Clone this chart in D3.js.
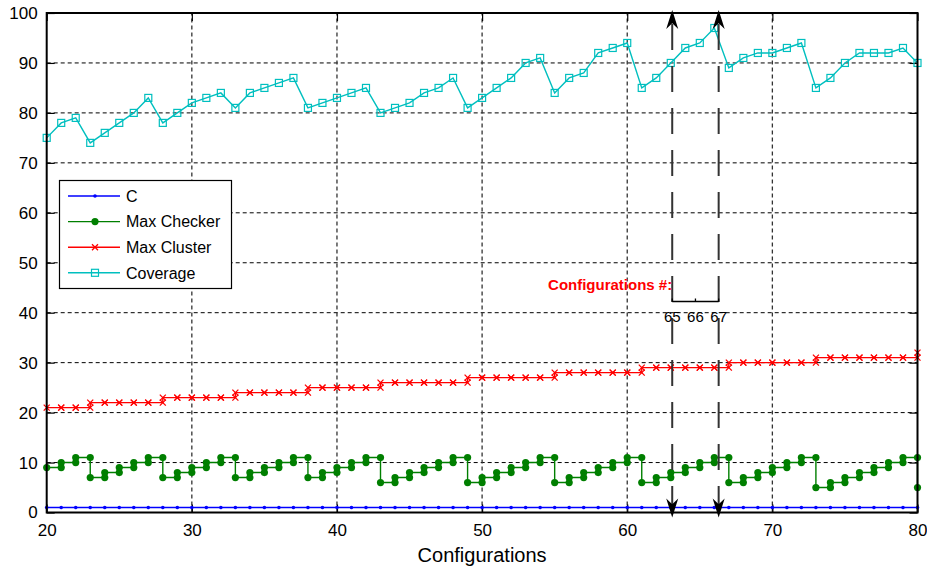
<!DOCTYPE html>
<html>
<head>
<meta charset="utf-8">
<script src="https://cdn.jsdelivr.net/npm/d3@7"></script>
<style>
  body { margin: 0; background: #fff; }
  svg text { font-family: 'Liberation Sans', Arial, sans-serif; }
</style>
</head>
<body>
<svg id="chart"></svg>
<script>
// configurations on the x axis
const configs = d3.range(20, 81);

const cValues = configs.map(() => 1);

const maxChecker = [9, 10, 11, 7, 8, 9, 10, 11, 7, 8, 9, 10, 11, 7, 8, 9, 10, 11, 7, 8,
  9, 10, 11, 6, 7, 8, 9, 10, 11, 6, 7, 8, 9, 10, 11, 6, 7, 8, 9, 10,
  11, 6, 7, 8, 9, 10, 11, 6, 7, 8, 9, 10, 11, 5, 6, 7, 8, 9, 10, 11, 5];

const maxCluster = [21, 21, 21, 22, 22, 22, 22, 22, 23, 23, 23, 23, 23, 24, 24, 24, 24, 24, 25, 25,
  25, 25, 25, 26, 26, 26, 26, 26, 26, 27, 27, 27, 27, 27, 27, 28, 28, 28, 28, 28,
  28, 29, 29, 29, 29, 29, 29, 30, 30, 30, 30, 30, 30, 31, 31, 31, 31, 31, 31, 31, 32];

const coverage = [75, 78, 79, 74, 76, 78, 80, 83, 78, 80, 82, 83, 84, 81, 84, 85, 86, 87, 81, 82,
  83, 84, 85, 80, 81, 82, 84, 85, 87, 81, 83, 85, 87, 90, 91, 84, 87, 88, 92, 93,
  94, 85, 87, 90, 93, 94, 97, 89, 91, 92, 92, 93, 94, 85, 87, 90, 92, 92, 92, 93, 90];

const seriesNames = ['C', 'Max Checker', 'Max Cluster', 'Coverage'];
const xTicks = [20, 30, 40, 50, 60, 70, 80];
const yTicks = [0, 10, 20, 30, 40, 50, 60, 70, 80, 90, 100];

// annotation: the two marked positions and the bracket labels
const markX = [63.1, 66.3];
const bracketLabels = ['65', '66', '67'];

class StepChart {
  constructor(_config) {
    this.config = {
      parentElement: _config.parentElement,
      containerWidth: _config.containerWidth || 927,
      containerHeight: _config.containerHeight || 571,
      margin: _config.margin || {
        top: 13, right: 9.5, bottom: 58.5, left: 46.7,
      },
    };
    this.initVis();
  }

  initVis() {
    const vis = this;
    const m = vis.config.margin;
    vis.width = vis.config.containerWidth - m.left - m.right;
    vis.height = vis.config.containerHeight - m.top - m.bottom;

    vis.svg = d3.select(vis.config.parentElement)
      .attr('width', vis.config.containerWidth)
      .attr('height', vis.config.containerHeight);

    vis.x = d3.scaleLinear().domain([20, 80]).range([m.left, m.left + vis.width]);
    vis.y = d3.scaleLinear().domain([0, 100]).range([m.top + vis.height, m.top]);

    vis.colors = {
      C: '#0000ff', 'Max Checker': '#007f00', 'Max Cluster': '#ff0000', Coverage: '#00bfbf',
    };
  }

  renderVis() {
    const vis = this;
    const { x, y } = vis;
    const x0 = x.range()[0];
    const x1 = x.range()[1];
    const y0 = y.range()[0];
    const y1 = y.range()[1];

    // grid
    const grid = vis.svg.append('g');
    grid.selectAll('.hgrid')
      .data(yTicks.slice(1, -1))
      .enter()
      .append('line')
      .attr('x1', x0).attr('x2', x1)
      .attr('y1', (d) => y(d)).attr('y2', (d) => y(d))
      .attr('stroke', '#000')
      .attr('stroke-width', 1)
      .attr('stroke-dasharray', '4,3');
    grid.selectAll('.vgrid')
      .data(xTicks.slice(1, -1))
      .enter()
      .append('line')
      .attr('x1', (d) => x(d)).attr('x2', (d) => x(d))
      .attr('y1', y0).attr('y2', y1)
      .attr('stroke', '#333')
      .attr('stroke-width', 1.3)
      .attr('stroke-dasharray', '4,3');

    // axes with inward ticks on all sides
    vis.svg.append('g')
      .attr('transform', `translate(0,${y0})`)
      .call(d3.axisBottom(x).tickValues(xTicks).tickSizeInner(-8).tickSizeOuter(0).tickPadding(11))
      .call((g) => g.select('.domain').remove())
      .call((g) => g.selectAll('text').style('font-size', '17px').attr('fill', '#000'));
    vis.svg.append('g')
      .attr('transform', `translate(0,${y1})`)
      .call(d3.axisTop(x).tickValues(xTicks).tickSizeInner(-8).tickSizeOuter(0).tickFormat(''))
      .call((g) => g.select('.domain').remove());
    vis.svg.append('g')
      .attr('transform', `translate(${x0},0)`)
      .call(d3.axisLeft(y).tickValues(yTicks).tickSizeInner(-8).tickSizeOuter(0).tickPadding(9))
      .call((g) => g.select('.domain').remove())
      .call((g) => g.selectAll('text').style('font-size', '17px').attr('fill', '#000'));
    vis.svg.append('g')
      .attr('transform', `translate(${x1},0)`)
      .call(d3.axisRight(y).tickValues(yTicks).tickSizeInner(-8).tickSizeOuter(0).tickFormat(''))
      .call((g) => g.select('.domain').remove());
    vis.svg.selectAll('.tick line').attr('stroke', '#000').attr('stroke-width', 1.2);

    vis.svg.append('text')
      .attr('x', (x0 + x1) / 2)
      .attr('y', 562)
      .attr('text-anchor', 'middle')
      .style('font-size', '20px')
      .text('Configurations');

    // series
    const rows = configs.map((c, i) => ({
      x: c, C: cValues[i], 'Max Checker': maxChecker[i], 'Max Cluster': maxCluster[i], Coverage: coverage[i],
    }));
    const plot = vis.svg.append('g');

    seriesNames.forEach((name) => {
      const stepped = name === 'Max Checker' || name === 'Max Cluster';
      const line = d3.line()
        .x((d) => x(d.x))
        .y((d) => y(d[name]))
        .curve(stepped ? d3.curveStepAfter : d3.curveLinear);
      plot.append('path')
        .datum(rows)
        .attr('fill', 'none')
        .attr('stroke', vis.colors[name])
        .attr('stroke-width', 1.4)
        .attr('d', line);

      // marker points, step series get one at each end of a jump
      let pts = rows.map((d) => ({ x: d.x, v: d[name] }));
      if (stepped) {
        pts = pts.concat(rows.slice(1).map((d, i) => ({ x: d.x, v: rows[i][name] })));
      }
      vis.drawMarkers(plot, name, pts.map((p) => [x(p.x), y(p.v)]));
    });

    // frame
    vis.svg.append('rect')
      .attr('x', x0).attr('y', y1)
      .attr('width', x1 - x0).attr('height', y0 - y1)
      .attr('fill', 'none')
      .attr('stroke', '#000')
      .attr('stroke-width', 2);

    // marked positions with arrows
    const ann = vis.svg.append('g');
    ann.selectAll('.mark')
      .data(markX)
      .enter()
      .append('line')
      .attr('x1', (d) => x(d)).attr('x2', (d) => x(d))
      .attr('y1', y1 + 4).attr('y2', y0 - 4)
      .attr('stroke', '#333')
      .attr('stroke-width', 2)
      .attr('stroke-dasharray', '26,16')
      .attr('stroke-dashoffset', 35);
    const arrow = (cx, tip, dir) => {
      const l = 19 * dir;
      return `M${cx},${tip}L${cx + 6},${tip + l}L${cx},${tip + l * 0.7}L${cx - 6},${tip + l}Z`;
    };
    markX.forEach((d) => {
      ann.append('path').attr('d', arrow(x(d), y1 - 3, 1)).attr('fill', '#000');
      ann.append('path').attr('d', arrow(x(d), y0 + 5, -1)).attr('fill', '#000');
    });

    // bracket 65 66 67
    const bx = d3.scaleLinear().domain([0, 2]).range([x(markX[0]), x(markX[1])]);
    const by = 301.5;
    ann.append('line')
      .attr('x1', bx(0)).attr('x2', bx(2))
      .attr('y1', by).attr('y2', by)
      .attr('stroke', '#000').attr('stroke-width', 1.3);
    ann.selectAll('.btick')
      .data(bracketLabels)
      .enter()
      .append('line')
      .attr('x1', (d, i) => bx(i)).attr('x2', (d, i) => bx(i))
      .attr('y1', by).attr('y2', by - 3)
      .attr('stroke', '#000').attr('stroke-width', 1.3);
    ann.selectAll('.blabel')
      .data(bracketLabels)
      .enter()
      .append('text')
      .attr('x', (d, i) => bx(i))
      .attr('y', by + 20)
      .attr('text-anchor', 'middle')
      .style('font-size', '15px')
      .text((d) => d);
    ann.append('text')
      .attr('x', x(markX[0]))
      .attr('y', 290)
      .attr('text-anchor', 'end')
      .attr('fill', '#ff0000')
      .style('font-size', '15px')
      .style('font-weight', 'bold')
      .text('Configurations #:');

    // legend
    const lg = vis.svg.append('g');
    lg.append('rect')
      .attr('x', 59.5).attr('y', 180.5)
      .attr('width', 172).attr('height', 108)
      .attr('fill', '#fff')
      .attr('stroke', '#000')
      .attr('stroke-width', 1.2);
    seriesNames.forEach((name, i) => {
      const ly = 196 + i * 25.6;
      lg.append('line')
        .attr('x1', 68).attr('x2', 120)
        .attr('y1', ly).attr('y2', ly)
        .attr('stroke', vis.colors[name])
        .attr('stroke-width', 1.4);
      vis.drawMarkers(lg, name, [[95, ly]]);
      lg.append('text')
        .attr('x', 126)
        .attr('y', ly)
        .attr('dy', '0.36em')
        .style('font-size', '16px')
        .text(name);
    });
  }

  drawMarkers(g, name, pts) {
    const vis = this;
    const col = vis.colors[name];
    const sel = g.append('g').selectAll('m').data(pts).enter();
    if (name === 'C') {
      sel.append('circle')
        .attr('cx', (d) => d[0]).attr('cy', (d) => d[1])
        .attr('r', 1.8).attr('fill', col);
    } else if (name === 'Max Checker') {
      sel.append('circle')
        .attr('cx', (d) => d[0]).attr('cy', (d) => d[1])
        .attr('r', 3.6).attr('fill', col);
    } else if (name === 'Max Cluster') {
      sel.append('path')
        .attr('d', (d) => `M${d[0] - 3},${d[1] - 3}L${d[0] + 3},${d[1] + 3}M${d[0] - 3},${d[1] + 3}L${d[0] + 3},${d[1] - 3}`)
        .attr('stroke', col).attr('stroke-width', 1.3).attr('fill', 'none');
    } else {
      sel.append('rect')
        .attr('x', (d) => d[0] - 3.5).attr('y', (d) => d[1] - 3.5)
        .attr('width', 7).attr('height', 7)
        .attr('fill', 'none').attr('stroke', col).attr('stroke-width', 1.2);
    }
  }
}

const chart = new StepChart({ parentElement: '#chart' });
chart.renderVis();
</script>
</body>
</html>
